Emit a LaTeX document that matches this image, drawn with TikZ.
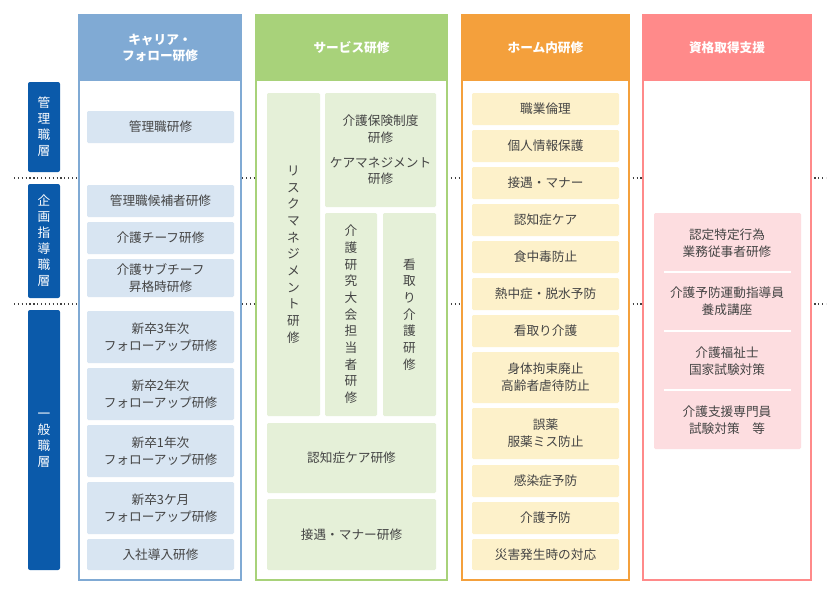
\documentclass[tikz,border=0pt]{standalone}
\usepackage{fontspec}
\setmainfont{Noto Sans CJK JP}
\usetikzlibrary{positioning}

\definecolor{carx}{HTML}{80AAD4}
\definecolor{carl}{HTML}{D8E5F2}
\definecolor{serx}{HTML}{A8D27A}
\definecolor{serl}{HTML}{E5F0D8}
\definecolor{homx}{HTML}{F4A03C}
\definecolor{homl}{HTML}{FDF1CA}
\definecolor{quax}{HTML}{FF8A8A}
\definecolor{qual}{HTML}{FDDDE0}
\definecolor{levx}{HTML}{0B5AAA}
\definecolor{txtx}{HTML}{444444}

\tikzset{
    headbox/.style={draw=#1,fill=#1,text=white,font=\bfseries\fontsize{9.5}{12}\selectfont,align=center},
    colbox/.style={draw=#1,fill=white,line width=0.8pt},
    itembox/.style={fill=#1,text=txtx,font=\fontsize{9.5}{12.5}\selectfont,align=center,rounded corners=1pt},
    levbox/.style={fill=levx,text=white,font=\fontsize{9.5}{12}\selectfont,align=center,rounded corners=1.5pt},
    levline/.style={dotted,line width=0.9pt,black!75}
}
% box by pixel corners
\newcommand{\pbox}[6]{\node[#1,minimum width=#4*0.75pt-#2*0.75pt,minimum height=#5*0.75pt-#3*0.75pt,inner sep=0pt] (#6) at ({(#2+#4)/2},{(#3+#5)/2})}

\begin{document}
\begin{tikzpicture}[x=0.75pt,y=-0.75pt]
    \useasboundingbox[fill=white] (0,0) rectangle (840,596);

    % level separators
    \draw[levline] (14,178) -- (826,178);
    \draw[levline] (14,304) -- (826,304);

    % columns
    \pbox{colbox=carx}{79}{15}{241}{580}{ccol} {};
    \pbox{colbox=serx}{256}{15}{447}{580}{scol} {};
    \pbox{colbox=homx}{462}{15}{629}{580}{hcol} {};
    \pbox{colbox=quax}{643}{15}{811}{580}{qcol} {};
    \pbox{headbox=carx}{79}{15}{241}{80}{chead} {キャリア・\\フォロー研修};
    \pbox{headbox=serx}{256}{15}{447}{80}{shead} {サービス研修};
    \pbox{headbox=homx}{462}{15}{629}{80}{hhead} {ホーム内研修};
    \pbox{headbox=quax}{643}{15}{811}{80}{qhead} {資格取得支援};

    % levels
    \pbox{levbox}{28}{82}{60}{172}{lev1} {管\\理\\職\\層};
    \pbox{levbox}{28}{184}{60}{298}{lev2} {企\\画\\指\\導\\職\\層};
    \pbox{levbox}{28}{310}{60}{570}{lev3} {一\\般\\職\\層};

    % career
    \pbox{itembox=carl}{87}{111}{234}{143}{c1} {管理職研修};
    \pbox{itembox=carl}{87}{185}{234}{217}{c2} {管理職候補者研修};
    \pbox{itembox=carl}{87}{222}{234}{254}{c3} {介護チーフ研修};
    \pbox{itembox=carl}{87}{259}{234}{297}{c4} {介護サブチーフ\\昇格時研修};
    \pbox{itembox=carl}{87}{311}{234}{363}{c5} {新卒3年次\\フォローアップ研修};
    \pbox{itembox=carl}{87}{368}{234}{420}{c6} {新卒2年次\\フォローアップ研修};
    \pbox{itembox=carl}{87}{425}{234}{477}{c7} {新卒1年次\\フォローアップ研修};
    \pbox{itembox=carl}{87}{482}{234}{534}{c8} {新卒3ケ月\\フォローアップ研修};
    \pbox{itembox=carl}{87}{539}{234}{570}{c9} {入社導入研修};

    % service
    \pbox{itembox=serl}{267}{93}{320}{416}{s1} {リ\\ス\\ク\\マ\\ネ\\ジ\\メ\\ン\\ト\\研\\修};
    \pbox{itembox=serl}{325}{93}{436}{207}{s2} {介護保険制度\\研修\\[6pt]ケアマネジメント\\研修};
    \pbox{itembox=serl}{325}{213}{377}{416}{s3} {介\\護\\研\\究\\大\\会\\担\\当\\者\\研\\修};
    \pbox{itembox=serl}{383}{213}{436}{416}{s4} {看\\取\\り\\介\\護\\研\\修};
    \pbox{itembox=serl}{267}{423}{436}{493}{s5} {認知症ケア研修};
    \pbox{itembox=serl}{267}{499}{436}{570}{s6} {接遇・マナー研修};

    % home
    \pbox{itembox=homl}{472}{93}{619}{125}{h1} {職業倫理};
    \pbox{itembox=homl}{472}{130}{619}{162}{h2} {個人情報保護};
    \pbox{itembox=homl}{472}{167}{619}{199}{h3} {接遇・マナー};
    \pbox{itembox=homl}{472}{204}{619}{236}{h4} {認知症ケア};
    \pbox{itembox=homl}{472}{241}{619}{273}{h5} {食中毒防止};
    \pbox{itembox=homl}{472}{278}{619}{310}{h6} {熱中症・脱水予防};
    \pbox{itembox=homl}{472}{315}{619}{347}{h7} {看取り介護};
    \pbox{itembox=homl}{472}{352}{619}{403}{h8} {身体拘束廃止\\高齢者虐待防止};
    \pbox{itembox=homl}{472}{408}{619}{459}{h9} {誤薬\\服薬ミス防止};
    \pbox{itembox=homl}{472}{465}{619}{497}{h10} {感染症予防};
    \pbox{itembox=homl}{472}{502}{619}{534}{h11} {介護予防};
    \pbox{itembox=homl}{472}{539}{619}{570}{h12} {災害発生時の対応};

    % qualification
    \pbox{itembox=qual}{654}{213}{801}{449}{q0} {};
    \foreach \y in {272,331,390}
        \draw[white,line width=1.5pt] (664,\y) -- (791,\y);
    \node[itembox=qual,fill=none] (q1) at (727,243) {認定特定行為\\業務従事者研修};
    \node[itembox=qual,fill=none] (q2) at (727,301) {介護予防運動指導員\\養成講座};
    \node[itembox=qual,fill=none] (q3) at (727,361) {介護福祉士\\国家試験対策};
    \node[itembox=qual,fill=none] (q4) at (727,420) {介護支援専門員\\試験対策\quad 等};
\end{tikzpicture}
\end{document}
